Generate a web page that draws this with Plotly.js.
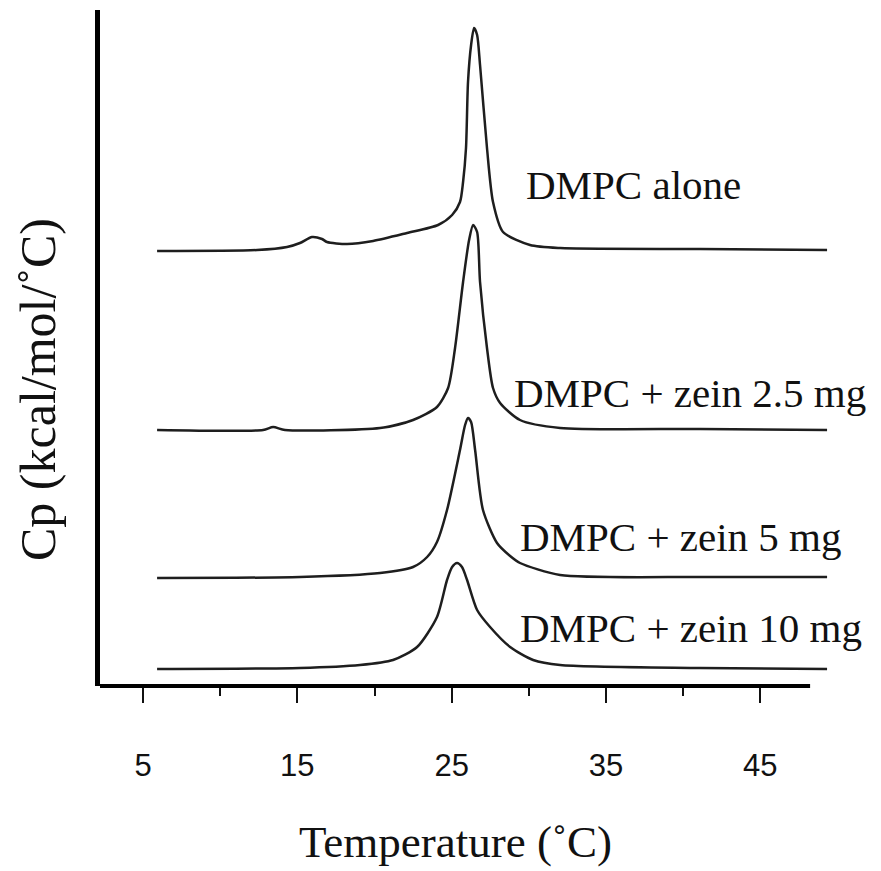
<!DOCTYPE html>
<html>
<head>
<meta charset="utf-8">
<script src="https://cdn.plot.ly/plotly-3.0.1.min.js"></script>
<style>html,body{margin:0;padding:0;background:#fff;}#chart{width:881px;height:871px;}</style>
</head>
<body>
<div id="chart"></div>
<script>
// Temperature (°C) and Cp (arbitrary offset units)
const tAlone = [5.91, 12.39, 14.33, 15.17, 15.95, 16.60, 16.92, 18.22, 19.91, 22.11, 24.12, 25.03, 25.54, 25.74, 25.93, 26.06, 26.26, 26.45, 26.65, 26.84, 27.29, 27.68, 28.33, 30.08, 32.03, 41.10, 49.33];
const cpAlone = [43.5, 43.6, 43.9, 44.3, 44.9, 44.7, 44.4, 44.2, 44.5, 45.3, 46.1, 47.1, 48.4, 50.4, 53.8, 60.4, 64.1, 65.8, 65.1, 62.1, 53.8, 48.4, 45.4, 44.1, 43.8, 43.7, 43.6];

const tZein25 = [5.91, 12.78, 13.43, 14.20, 20.36, 22.50, 24.05, 24.77, 25.22, 25.74, 26.13, 26.39, 26.65, 26.84, 27.29, 27.68, 28.14, 29.43, 32.03, 41.10, 49.33];
const cpZein25 = [25.6, 25.6, 25.9, 25.6, 25.8, 26.6, 27.9, 29.8, 33.8, 40.4, 44.6, 46.1, 45.4, 40.4, 33.8, 29.8, 28.3, 26.6, 25.8, 25.7, 25.6];

const tZein5 = [5.91, 15.17, 20.36, 22.50, 23.41, 24.05, 24.70, 25.54, 25.87, 26.06, 26.26, 26.52, 27.03, 27.94, 28.79, 29.43, 32.03, 41.10, 49.33];
const cpZein5 = [10.8, 10.9, 11.3, 11.9, 12.9, 14.4, 17.6, 23.6, 26.1, 26.8, 26.4, 23.6, 17.6, 14.3, 13.0, 12.3, 11.1, 10.9, 10.9];

const tZein10 = [5.91, 15.17, 19.06, 21.20, 22.76, 24.05, 24.70, 25.03, 25.35, 25.67, 26.00, 26.65, 27.49, 28.79, 30.28, 32.03, 41.10, 49.33];
const cpZein10 = [1.7, 1.8, 2.1, 2.6, 3.9, 6.9, 10.6, 11.9, 12.3, 11.9, 10.6, 7.6, 5.9, 3.9, 2.6, 2.1, 1.8, 1.7];

const seriesLabels = ["DMPC alone", "DMPC + zein 2.5 mg", "DMPC + zein 5 mg", "DMPC + zein 10 mg"];
const labelT = [29.70, 28.90, 29.30, 29.30];
const labelCp = [50.1, 29.3, 14.9, 5.8];

const majorTicks = [5, 15, 25, 35, 45];
const majorTickText = ["5", "15", "25", "35", "45"];
const xTitle = "Temperature (˚C)";
const yTitle = "Cp (kcal/mol/˚C)";

const lineStyle = {color: "#1e1e1e", width: 2.5, shape: "spline", smoothing: 0.7};
const allT = [tAlone, tZein25, tZein5, tZein10];
const allCp = [cpAlone, cpZein25, cpZein5, cpZein10];
const traces = allT.map((t, i) => ({
  x: t, y: allCp[i], type: "scatter", mode: "lines", name: seriesLabels[i],
  line: lineStyle, showlegend: false, hoverinfo: "skip"
}));

const annotations = seriesLabels.map((s, i) => ({
  text: s, x: labelT[i], y: labelCp[i], xref: "x", yref: "y",
  xanchor: "left", yanchor: "middle", showarrow: false,
  font: {family: "Liberation Serif, Times New Roman, serif", size: 41, color: "#111"}
}));
annotations.push({
  text: yTitle, x: (38 - 100) / 730, y: (686 - 390) / 676, xref: "paper", yref: "paper",
  xanchor: "center", yanchor: "middle", showarrow: false, textangle: -90,
  font: {family: "Liberation Serif, Times New Roman, serif", size: 50, color: "#111"}
});
annotations.push({
  text: xTitle, x: (455 - 100) / 730, y: -(842 - 686) / 676, xref: "paper", yref: "paper",
  xanchor: "center", yanchor: "middle", showarrow: false,
  font: {family: "Liberation Serif, Times New Roman, serif", size: 45, color: "#111"}
});

const layout = {
  width: 881, height: 871,
  margin: {l: 100, r: 51, t: 10, b: 185},
  paper_bgcolor: "#fff", plot_bgcolor: "#fff",
  xaxis: {
    range: [2.21, 49.52], showgrid: false, zeroline: false, showline: false,
    tickmode: "array", tickvals: majorTicks, ticktext: majorTickText,
    ticks: "outside", ticklen: 16, tickwidth: 2, tickcolor: "#111",
    ticklabelstandoff: 36,
    tickfont: {family: "Liberation Sans, Arial, sans-serif", size: 31, color: "#111"},
    minor: {ticks: "outside", tick0: 0, dtick: 10, ticklen: 9, tickwidth: 2, tickcolor: "#111"}
  },
  yaxis: {
    range: [0, 67.6], showgrid: false, zeroline: false, showline: true,
    linecolor: "#000", linewidth: 5, ticks: "", showticklabels: false
  },
  shapes: [{
    type: "line", xref: "x", yref: "paper", x0: 2.0, x1: 48.23, y0: 0, y1: 0,
    line: {color: "#000", width: 4}
  }],
  annotations: annotations
};

Plotly.newPlot("chart", traces, layout, {staticPlot: true, displayModeBar: false});
</script>
</body>
</html>
